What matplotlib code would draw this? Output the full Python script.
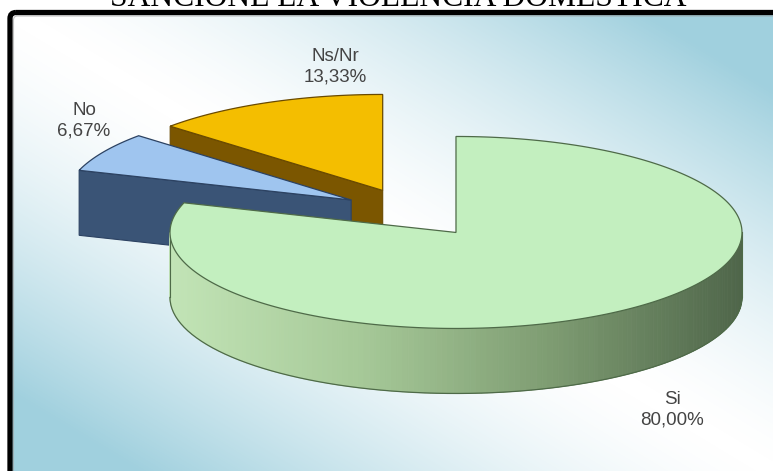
import numpy as np
import matplotlib
import matplotlib.pyplot as plt
from matplotlib.patches import Polygon, FancyBboxPatch
from matplotlib.colors import LinearSegmentedColormap

matplotlib.use('Agg')

title = "SANCIONE LA VIOLENCIA DOMESTICA"
labels = ["Si", "No", "Ns/Nr"]
shares = [80.00, 6.67, 13.33]
explode = [0.27, 0.24, 0.24]

top_colors = ["#c3efbf", "#9fc5ef", "#f4be00"]
cut_colors = ["#5d7a57", "#3a5476", "#7b5600"]
edge_colors = ["#4e6a48", "#2c4262", "#6a4a00"]
label_pos = [(672, 410), (84, 121), (335, 67)]

# pie geometry in pixel space
CX, CY = 410.6, 211.5
A, B = 286.0, 96.0
DEPTH = 65.0
W, H = 773, 471

side_cmap = LinearSegmentedColormap.from_list(
    "side", ["#c2e4b6", "#a6c998", "#7e9c72", "#4f664a"])
bg_cmap = LinearSegmentedColormap.from_list("bg", ["#ffffff", "#a0d0de"])


def pt(cx, cy, th, dz=0.0):
    r = np.radians(th)
    return np.column_stack([cx + A * np.cos(r), cy - B * np.sin(r) + dz])


fig = plt.figure(figsize=(W / 100, H / 100), dpi=100)
ax = fig.add_axes([0, 0, 1, 1])
ax.set_xlim(0, W)
ax.set_ylim(H, 0)
ax.axis("off")

# background panel with diagonal gradient
frame = FancyBboxPatch((10, 12.5), 800, 500, boxstyle="round,pad=0,rounding_size=6",
                       fc="none", ec="black", lw=3.8, zorder=10)
ax.add_patch(frame)
inner = FancyBboxPatch((13.5, 16), 800, 500, boxstyle="round,pad=0,rounding_size=4",
                       fc="none", ec="#9a9a9a", lw=0.8, alpha=0.6, zorder=9)
ax.add_patch(inner)
yy, xx = np.mgrid[0:H, 0:W]
xn = (xx - 10) / (W - 10)
yn = (yy - 12) / (H - 12)
t = np.clip(np.abs(xn - yn) * 1.2, 0, 1) ** 1.5
bg = ax.imshow(t, cmap=bg_cmap, vmin=0, vmax=1, extent=(0, W, H, 0),
               interpolation="bilinear", zorder=0, aspect="auto")
bg.set_clip_path(frame)

ax.text(398, 6, title, ha="center", va="baseline", fontsize=22.8,
        family="Liberation Serif", color="black", zorder=11)

# slice angles, clockwise from 12 o'clock
spans = []
start = 90.0
for s in shares:
    sweep = 360.0 * s / sum(shares)
    spans.append((start - sweep, start))
    start -= sweep


def draw_slice(i, z):
    t1, t2 = spans[i]
    mid = np.radians((t1 + t2) / 2)
    cx = CX + explode[i] * A * np.cos(mid)
    cy = CY - explode[i] * B * np.sin(mid)
    ec = edge_colors[i]

    # radial cut faces facing the viewer
    for phi, normal in ((t1, t1 - 90), (t2, t2 + 90)):
        if np.sin(np.radians(normal)) < -0.05:
            p = pt(cx, cy, phi)[0]
            quad = [(cx, cy), p, (p[0], p[1] + DEPTH), (cx, cy + DEPTH)]
            ax.add_patch(Polygon(quad, closed=True, fc=cut_colors[i], ec=ec,
                                 lw=0.8, zorder=z))

    # outer side on the front half
    lo, hi = max(t1, -180.0), min(t2, 0.0)
    if hi > lo:
        th = np.linspace(lo, hi, 160)
        top = pt(cx, cy, th)
        bot = pt(cx, cy, th, DEPTH)
        for k in range(len(th) - 1):
            xm = (top[k, 0] + top[k + 1, 0]) / 2
            c = side_cmap((xm - (cx - A)) / (2 * A))
            quad = [top[k], top[k + 1], bot[k + 1], bot[k]]
            ax.add_patch(Polygon(quad, closed=True, fc=c, ec=c, lw=0.6, zorder=z))
        ax.plot(bot[:, 0], bot[:, 1], color=ec, lw=0.9, zorder=z + 0.5)
        for e in (0, -1):
            ax.plot([top[e, 0], bot[e, 0]], [top[e, 1], bot[e, 1]],
                    color=ec, lw=0.8, zorder=z + 0.5)

    # top face
    th = np.linspace(t1, t2, 240)
    arc = pt(cx, cy, th)
    poly = np.vstack([[cx, cy], arc])
    ax.add_patch(Polygon(poly, closed=True, fc=top_colors[i], ec=ec,
                         lw=0.9, zorder=z + 1))


# back to front
draw_slice(2, 2)
draw_slice(1, 4)
draw_slice(0, 6)

for i, lab in enumerate(labels):
    txt = f"{lab}\n{shares[i]:.2f}%".replace(".", ",")
    x, y = label_pos[i]
    ax.text(x, y, txt, ha="center", va="center", fontsize=13.5,
            family="Liberation Sans", color="#444444", linespacing=1.3,
            zorder=12)

fig.savefig("out.png", dpi=100)
